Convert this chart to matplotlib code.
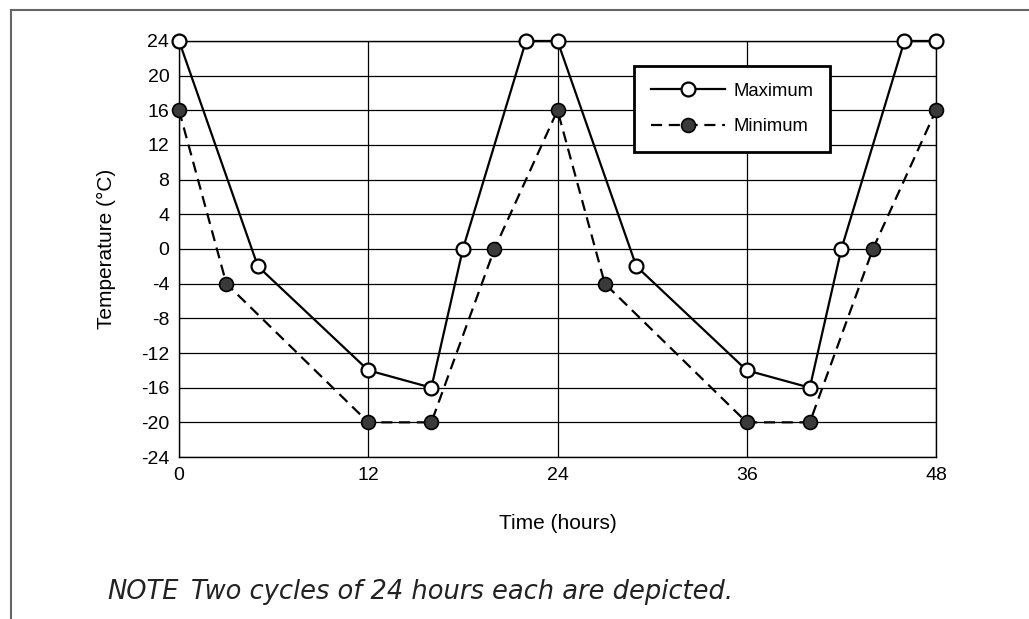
import matplotlib.pyplot as plt
from matplotlib.lines import Line2D

# data
max_hours = [0, 5, 12, 16, 18, 22, 24, 29, 36, 40, 42, 46, 48]
max_temps = [24, -2, -14, -16, 0, 24, 24, -2, -14, -16, 0, 24, 24]
min_hours = [0, 3, 12, 16, 20, 24, 27, 36, 40, 44, 48]
min_temps = [16, -4, -20, -20, 0, 16, -4, -20, -20, 0, 16]
x_ticks = [0, 12, 24, 36, 48]
y_ticks = list(range(-24, 25, 4))

plt.rcParams['font.family'] = ['Liberation Sans', 'DejaVu Sans']
plt.rcParams['axes.unicode_minus'] = False

fig = plt.figure(figsize=(10.29, 6.19), dpi=100)
ax = fig.add_axes([0.174, 0.2617, 0.7356, 0.6721])

ax.plot(max_hours, max_temps, color='black', linewidth=1.6, marker='o',
        markersize=10, markerfacecolor='white', markeredgecolor='black',
        markeredgewidth=1.6, label='Maximum', zorder=4, clip_on=False)
ax.plot(min_hours, min_temps, color='black', linewidth=1.6, linestyle=(0, (5, 3)),
        marker='o', markersize=10, markerfacecolor='#3a3a3a', markeredgecolor='black',
        markeredgewidth=1.2, label='Minimum', zorder=4, clip_on=False)

ax.set_xlim(0, 48)
ax.set_ylim(-24, 24)
ax.set_xticks(x_ticks)
ax.set_yticks(y_ticks)
ax.tick_params(length=0, labelsize=14, pad=7)
ax.grid(True, color='black', linewidth=0.9)
ax.set_axisbelow(True)
for s in ax.spines.values():
    s.set_linewidth(1.0)
    s.set_color('black')

ax.set_xlabel('Time (hours)', fontsize=15, labelpad=22)
ax.set_ylabel('Temperature (°C)', fontsize=15, labelpad=18)

leg = ax.legend(loc='upper left', bbox_to_anchor=(0.589, 0.962), fontsize=13.3,
                handlelength=4.0, frameon=True, fancybox=False, framealpha=1,
                edgecolor='black', borderpad=0.9, labelspacing=1.0, handletextpad=0.5)
leg.get_frame().set_linewidth(2)

# page frame (top and left edges)
fig.add_artist(Line2D([0.0107, 1.0], [0.984, 0.984], color='#666666', linewidth=1.5))
fig.add_artist(Line2D([0.0107, 0.0107], [0.0, 0.984], color='#666666', linewidth=1.5))

note_font = dict(fontsize=18.5, style='italic', color='#222222', family='DejaVu Sans')
fig.text(0.104, 0.033, 'NOTE', **note_font)
fig.text(0.186, 0.033, 'Two cycles of 24 hours each are depicted.', **note_font)

fig.savefig('out.png', dpi=100)
